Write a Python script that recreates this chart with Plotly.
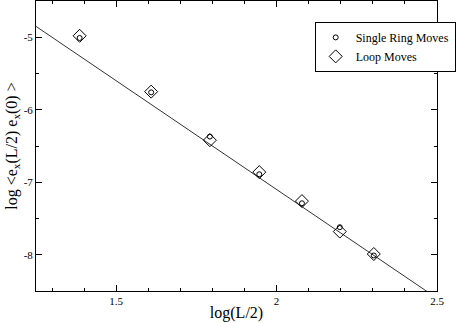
import plotly.graph_objects as go

# log(L/2) for L = 8 .. 20
log_half_L = [1.386, 1.609, 1.792, 1.946, 2.079, 2.197, 2.303]
single_ring = [-5.01, -5.76, -6.37, -6.89, -7.29, -7.62, -8.01]
loop_moves = [-4.98, -5.75, -6.42, -6.86, -7.26, -7.68, -7.99]

# straight-line fit drawn across the plot
fit_x = [1.25, 2.5]
fit_y = [-4.85, -8.6]

x_ticks = [1.5, 2, 2.5]
x_tick_text = ["1.5", "2", "2.5"]
y_ticks = [-8, -7, -6, -5]
y_tick_text = ["-8", "-7", "-6", "-5"]

serif = "Liberation Serif"

fig = go.Figure()
fig.add_trace(go.Scatter(
    x=fit_x, y=fit_y, mode="lines",
    line=dict(color="#333333", width=1),
    showlegend=False, hoverinfo="skip"
))
fig.add_trace(go.Scatter(
    x=log_half_L, y=single_ring, mode="markers", name="Single Ring Moves",
    marker=dict(symbol="circle-open", size=5, color="black", line=dict(width=1))
))
fig.add_trace(go.Scatter(
    x=log_half_L, y=loop_moves, mode="markers", name="Loop Moves",
    marker=dict(symbol="diamond-open", size=10, color="black", line=dict(width=1))
))

axis_style = dict(
    showline=True, linecolor="black", linewidth=1, mirror="allticks",
    ticks="inside", ticklen=6, tickcolor="black", showgrid=False, zeroline=False,
    tickfont=dict(family=serif, size=11, color="black"), automargin=False,
)

fig.update_xaxes(
    range=[1.25, 2.5], tickvals=x_ticks, ticktext=x_tick_text,
    minor=dict(dtick=0.1, ticks="inside", ticklen=3, tickcolor="black", showgrid=False),
    title=dict(text="log(L/2)", font=dict(family=serif, size=16, color="black"), standoff=0),
    **axis_style
)
fig.update_yaxes(
    range=[-8.5, -4.5], tickvals=y_ticks, ticktext=y_tick_text,
    minor=dict(dtick=0.5, ticks="inside", ticklen=3, tickcolor="black", showgrid=False),
    title=dict(text="log <e<sub>x</sub>(L/2) e<sub>x</sub>(0) >",
               font=dict(family=serif, size=16, color="black"), standoff=2),
    **axis_style
)

fig.update_layout(
    width=457, height=323,
    margin=dict(l=36, r=8, t=1, b=32),
    plot_bgcolor="white", paper_bgcolor="white",
    legend=dict(
        x=0.695, y=0.928, xanchor="left", yanchor="top",
        bordercolor="black", borderwidth=1, bgcolor="white",
        font=dict(family=serif, size=12, color="black"),
        itemwidth=30, tracegroupgap=0,
    ),
)

fig.write_html("out.html", config={"displayModeBar": False},
               post_script="document.body.style.margin='0';")
